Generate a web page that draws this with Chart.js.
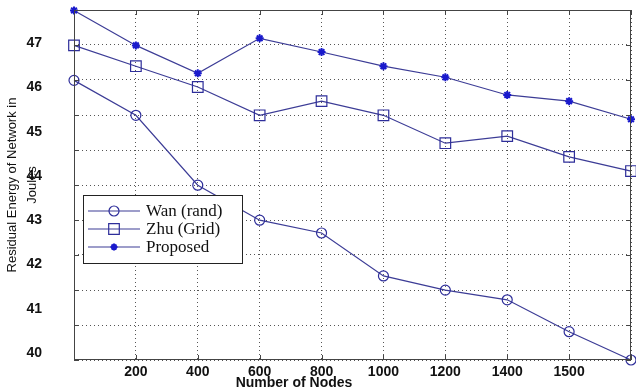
<!DOCTYPE html>
<html>
<head>
<meta charset="utf-8">
<script src="https://cdn.jsdelivr.net/npm/chart.js@4"></script>
<style>
  html, body { margin: 0; padding: 0; background: #fff; }
  #wrap { width: 636px; height: 392px; }
</style>
</head>
<body>
<div id="wrap"><canvas id="energyChart" width="636" height="392"></canvas></div>
<script>
// number of nodes (first and last points have no label in the picture)
const nodeLabels = ['', '200', '400', '600', '800', '1000', '1200', '1400', '1500', ''];

// residual energy (Joules)
const wanRand = [46.16, 45.37, 43.79, 43.00, 42.71, 41.74, 41.42, 41.20, 40.48, 39.84];
const zhuGrid = [46.95, 46.48, 46.01, 45.37, 45.69, 45.37, 44.74, 44.90, 44.43, 44.11];
const proposed = [47.74, 46.95, 46.32, 47.11, 46.80, 46.48, 46.23, 45.83, 45.69, 45.28];

const lineColor = '#3c3c96';

// box, inner tick marks and the legend drawn over the plot
const framePlugin = {
    id: 'frame',
    afterDatasetsDraw(chart) {
        const ctx = chart.ctx;
        const a = chart.chartArea;
        ctx.save();
        ctx.strokeStyle = '#444';
        ctx.lineWidth = 1;
        ctx.strokeRect(a.left + 0.5, a.top + 0.5, a.right - a.left - 1, a.bottom - a.top - 1);

        // little inward ticks
        const xs = chart.scales.x;
        ctx.beginPath();
        xs.ticks.forEach((t, i) => {
            const px = Math.round(xs.getPixelForTick(i)) + 0.5;
            ctx.moveTo(px, a.bottom); ctx.lineTo(px, a.bottom - 5);
            ctx.moveTo(px, a.top); ctx.lineTo(px, a.top + 5);
        });
        const ys = chart.scales.yg;
        ys.ticks.forEach((t, i) => {
            const py = Math.round(ys.getPixelForTick(i)) + 0.5;
            ctx.moveTo(a.left, py); ctx.lineTo(a.left + 5, py);
            ctx.moveTo(a.right, py); ctx.lineTo(a.right - 5, py);
        });
        ctx.stroke();

        // legend box
        const bx = a.left + 9, by = a.top + 185, bw = 159, bh = 68;
        ctx.fillStyle = '#fff';
        ctx.fillRect(bx, by, bw, bh);
        ctx.strokeStyle = '#222';
        ctx.strokeRect(bx + 0.5, by + 0.5, bw, bh);
        ctx.font = '17px "Liberation Serif", "Times New Roman", serif';
        ctx.textBaseline = 'middle';
        chart.data.datasets.forEach((ds, i) => {
            const yy = by + 16 + i * 18;
            ctx.strokeStyle = ds.borderColor;
            ctx.lineWidth = 1.2;
            ctx.beginPath();
            ctx.moveTo(bx + 5, yy); ctx.lineTo(bx + 57, yy);
            ctx.stroke();
            ctx.fillStyle = 'rgba(0,0,0,0)';
            ctx.strokeStyle = ds.pointBorderColor;
            ctx.lineWidth = ds.pointBorderWidth;
            Chart.helpers.drawPoint(ctx, {
                pointStyle: ds.pointStyle,
                radius: ds.pointStyle === 'star' ? 3.5 : ds.pointRadius,
                borderWidth: ds.pointBorderWidth
            }, bx + 31, yy);
            ctx.fillStyle = '#111';
            ctx.fillText(ds.label, bx + 63, yy + 1);
        });

        // x axis title, sits left of centre in the picture
        ctx.fillStyle = '#111';
        ctx.font = 'bold 14px "Liberation Sans", Arial, sans-serif';
        ctx.textAlign = 'center';
        ctx.fillText('Number of Nodes', 294, 383);
        ctx.restore();
    }
};

function makeSet(label, data, style, radius, color) {
    return {
        label: label,
        data: data,
        borderColor: lineColor,
        borderWidth: 1.2,
        pointStyle: style,
        pointRadius: radius,
        pointBorderColor: color,
        pointBackgroundColor: 'rgba(0,0,0,0)',
        pointBorderWidth: style === 'star' ? 2 : 1.2,
        fill: false,
        tension: 0,
        clip: false
    };
}

const ctx = document.getElementById('energyChart').getContext('2d');
const energyChart = new Chart(ctx, {
    type: 'line',
    data: {
        labels: nodeLabels,
        datasets: [
            makeSet('Wan (rand)', wanRand, 'circle', 5, '#2e2e9a'),
            makeSet('Zhu (Grid)', zhuGrid, 'rect', 7.5, '#2e2e9a'),
            makeSet('Proposed', proposed, 'star', 4, '#1a1acc')
        ]
    },
    options: {
        responsive: false,
        animation: false,
        layout: { autoPadding: false, padding: { top: 10, right: 5, left: 0, bottom: 0 } },
        plugins: {
            legend: { display: false },
            tooltip: { enabled: false }
        },
        scales: {
            x: {
                offset: false,
                afterFit: (s) => { s.height = 32; s.paddingLeft = 0; s.paddingRight = 0; },
                border: { display: false, dash: [1, 3] },
                grid: { color: '#555', lineWidth: 1, drawTicks: false },
                ticks: {
                    color: '#111',
                    padding: 4,
                    maxRotation: 0,
                    autoSkip: false,
                    font: { family: '"Liberation Sans", Arial, sans-serif', size: 14, weight: 'bold' }
                }
            },
            y: {
                position: 'left',
                min: 39.84,
                max: 47.75,
                afterFit: (s) => { s.width = 74; s.paddingTop = 0; s.paddingBottom = 0; },
                afterBuildTicks: (s) => {
                    s.ticks = [40, 41, 42, 43, 44, 45, 46, 47].map((v) => ({ value: v }));
                },
                border: { display: false },
                grid: { display: false },
                ticks: {
                    color: '#111',
                    padding: 24,
                    font: { family: '"Liberation Sans", Arial, sans-serif', size: 14, weight: 'bold' }
                },
                title: {
                    display: true,
                    text: ['Residual Energy of Network in', 'Joules'],
                    color: '#111',
                    padding: { top: 3, bottom: 0 },
                    font: { family: '"Liberation Sans", Arial, sans-serif', size: 13, lineHeight: 1.5 }
                }
            },
            yg: {
                position: 'left',
                min: 0,
                max: 10,
                afterFit: (s) => { s.width = 0; s.paddingTop = 0; s.paddingBottom = 0; },
                border: { display: false, dash: [1, 3] },
                grid: { color: '#555', lineWidth: 1, drawTicks: false },
                ticks: { display: false, stepSize: 1 }
            }
        }
    },
    plugins: [framePlugin]
});
</script>
</body>
</html>
